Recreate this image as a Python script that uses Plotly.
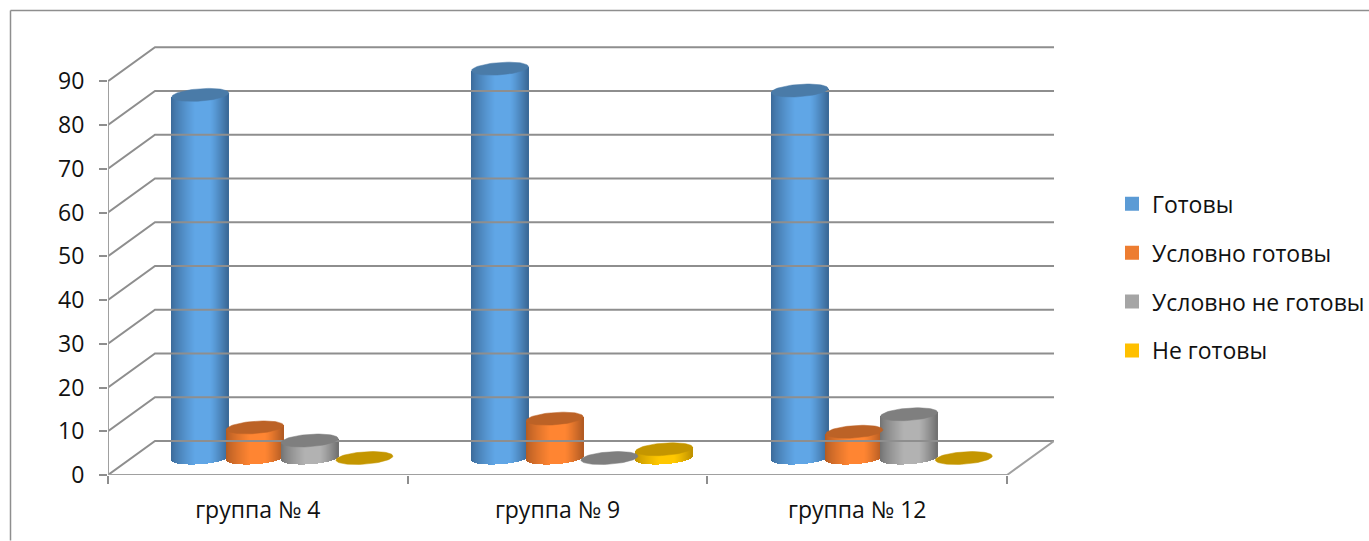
import math
import plotly.graph_objects as go

# ---- data ----
categories = ["группа № 4", "группа № 9", "группа № 12"]
series_names = ["Готовы", "Условно готовы", "Условно не готовы", "Не готовы"]
gotovy = [83, 89, 84]
uslovno_gotovy = [7, 9, 6]
uslovno_ne_gotovy = [4, 0, 10]
ne_gotovy = [0, 2, 0]
y_ticks = [0, 10, 20, 30, 40, 50, 60, 70, 80, 90]

# ---- styles ----
series_values = [gotovy, uslovno_gotovy, uslovno_ne_gotovy, ne_gotovy]
legend_colors = ["#5B9BD5", "#ED7D31", "#A5A5A5", "#FFC000"]
body_light = [(96, 166, 230), (255, 133, 50), (178, 178, 178), (255, 200, 0)]
body_dark = [(58, 104, 150), (176, 90, 34), (112, 112, 112), (190, 145, 0)]
top_colors = ["#4A7BA8", "#BC6226", "#7F7F7F", "#C49600"]
FONT = "Open Sans"
AXIS = "#8E8E8E"

# ---- plot box, in page pixels ----
LEFT, RIGHT, TOP, BOTTOM = 108.0, 1054.0, 40.0, 475.5
W, H = 1369, 541

# ---- pseudo-3D geometry, in axis units ----
PX_X = 299.7      # pixels per category
PX_Y = 4.38       # pixels per value unit
DEPTH_X = 47 / PX_X
DEPTH_Y = 7.77
X_MAX = (RIGHT - LEFT) / PX_X
Y_MAX = (BOTTOM - TOP) / PX_Y
GAP = 54.7 / PX_X
HALF_W = 28.5 / PX_X
SHIFT = 1 / PX_X
FLOOR = 3.88
EB = 6.2 / PX_Y
TILT = 0.07 * PX_X / PX_Y
STRIP = 1 / PX_X


def paper_x(px):
    return (px - LEFT) / (RIGHT - LEFT)


def paper_y(py):
    return (BOTTOM - py) / (BOTTOM - TOP)


def shade(t, i):
    if t < 0.42:
        k = (t / 0.42) ** 0.75
    elif t < 0.68:
        k = 1.0
    else:
        k = 1 - ((t - 0.68) / 0.32) ** 1.2
    return "rgb(%d,%d,%d)" % tuple(
        round(body_dark[i][c] + (body_light[i][c] - body_dark[i][c]) * k) for c in range(3)
    )


fig = go.Figure()

# wall, floor and axis lines
gx, gy = [], []
for v in y_ticks:
    gx += [0, DEPTH_X, X_MAX, None]
    gy += [v, v + DEPTH_Y, v + DEPTH_Y, None]
fig.add_trace(go.Scatter(x=gx, y=gy, mode="lines", line=dict(color=AXIS, width=2), cliponaxis=False,
                         hoverinfo="skip", showlegend=False))
fig.add_trace(go.Scatter(x=[0, 0, None, 0, 3, X_MAX], y=[0, 90, None, 0, 0, DEPTH_Y], mode="lines",
                         line=dict(color="#A0A0A0", width=2), cliponaxis=False,
                         hoverinfo="skip", showlegend=False))


def centre(g, i):
    return g + 0.5 + DEPTH_X / 2 + SHIFT + (i - 1.5) * GAP


# cylinder bodies (1-pixel shaded strips per series)
for i, vals in enumerate(series_values):
    xs, bases, heights, cols = [], [], [], []
    for g, v in enumerate(vals):
        if v <= 0:
            continue
        cx = centre(g, i)
        n = round(2 * HALF_W / STRIP)
        for s in range(n):
            dx = -HALF_W + (s + 0.5) * STRIP
            low = FLOOR + TILT * dx - EB * math.sqrt(max(0, 1 - (dx / HALF_W) ** 2))
            top = FLOOR + v + TILT * dx
            xs.append(cx + dx)
            bases.append(low)
            heights.append(top - low)
            cols.append(shade((s + 0.5) / n, i))
    fig.add_trace(go.Bar(x=xs, y=heights, base=bases, width=STRIP * 1.02,
                         marker=dict(color=cols, line=dict(width=0)),
                         hoverinfo="skip", showlegend=False))

# cylinder tops
for i, vals in enumerate(series_values):
    ex, ey = [], []
    for g, v in enumerate(vals):
        cx = centre(g, i)
        for k in range(73):
            a = 2 * math.pi * k / 72
            dx = HALF_W * math.cos(a)
            ex.append(cx + dx)
            ey.append(FLOOR + v + TILT * dx + EB * math.sin(a))
        ex.append(None)
        ey.append(None)
    fig.add_trace(go.Scatter(x=ex, y=ey, mode="lines", fill="toself", fillcolor=top_colors[i],
                             line=dict(color=top_colors[i], width=0.5),
                             hoverinfo="skip", showlegend=False))

# legend entries
for i, name in enumerate(series_names):
    fig.add_trace(go.Bar(x=[None], y=[None], name=name, legendgroup=name,
                         marker=dict(color=legend_colors[i],
                                     line=dict(color=legend_colors[i], width=2))))

fig.update_layout(
    width=W, height=H,
    margin=dict(l=LEFT, r=W - RIGHT, t=TOP, b=H - BOTTOM, autoexpand=False),
    paper_bgcolor="white", plot_bgcolor="white",
    barmode="overlay", bargap=0,
    font=dict(family=FONT, color="#111111"),
    xaxis=dict(range=[0, X_MAX], showgrid=False, zeroline=False, showline=False,
               tickvals=[0.5, 1.5, 2.5], ticktext=categories, ticks="outside",
               tickcolor="rgba(0,0,0,0)", ticklen=14, tickfont=dict(size=23, family=FONT),
               minor=dict(tick0=0, dtick=1, ticks="outside", ticklen=7.5, tickcolor=AXIS, tickwidth=1.5,
                          showgrid=False)),
    yaxis=dict(range=[0, Y_MAX], showgrid=False, zeroline=False, showline=False,
               tickvals=y_ticks, ticks="outside", ticklen=8, tickcolor=AXIS, tickwidth=1.5,
               ticklabelstandoff=10, tickfont=dict(size=23, family=FONT)),
    legend=dict(x=paper_x(1112), xref="paper", y=paper_y(182.5), yref="paper", xanchor="left", yanchor="top",
                font=dict(size=23, family=FONT), tracegroupgap=16, bgcolor="rgba(0,0,0,0)"),
    shapes=[
        dict(type="line", xref="paper", yref="paper", layer="below",
             x0=paper_x(10.5), x1=paper_x(W), y0=paper_y(10.5), y1=paper_y(10.5),
             line=dict(color="#8E8E8E", width=1.5)),
        dict(type="line", xref="paper", yref="paper", layer="below",
             x0=paper_x(10.5), x1=paper_x(10.5), y0=paper_y(H), y1=paper_y(10.5),
             line=dict(color="#8E8E8E", width=1.5)),
    ],
)

fig.write_html("out.html", config=dict(displayModeBar=False),
               post_script="document.body.style.margin='0';document.body.style.overflow='hidden';")
